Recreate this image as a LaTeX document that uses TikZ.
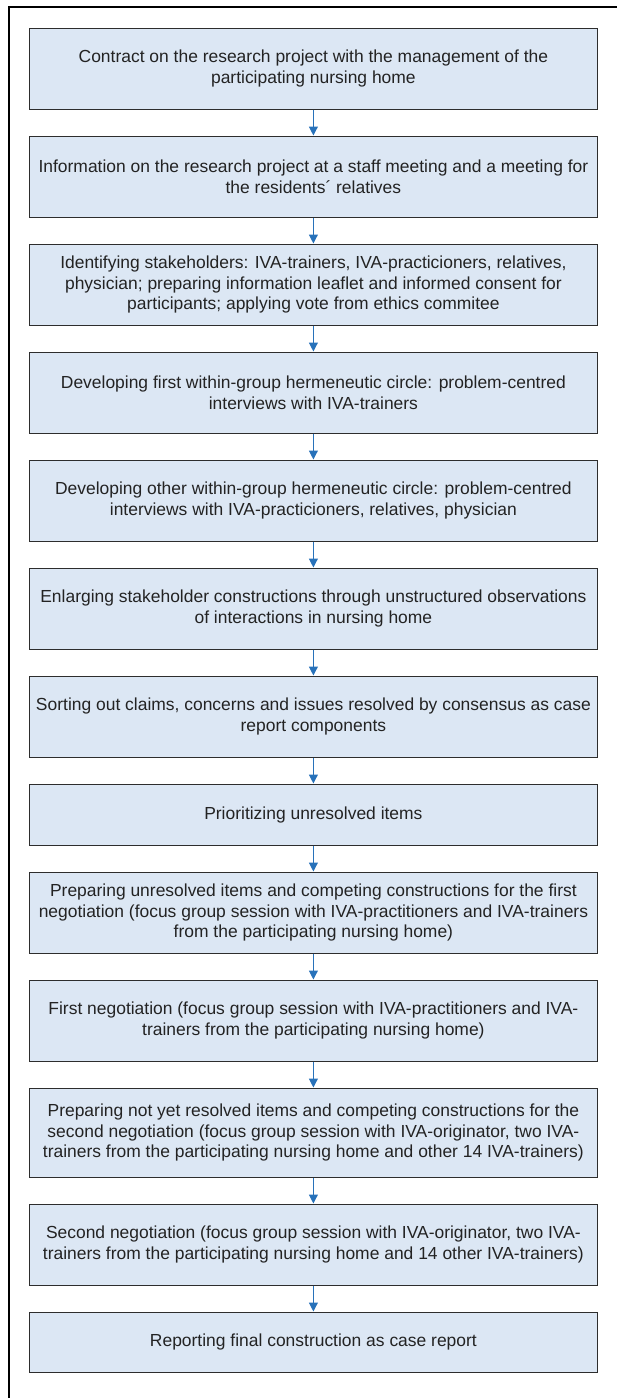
\documentclass[tikz,border=0pt]{standalone}
\usepackage{fontspec}
\setmainfont{Liberation Sans}
\usetikzlibrary{arrows.meta}
\definecolor{boxfill}{RGB}{220,231,244}
\definecolor{boxline}{RGB}{45,45,45}
\definecolor{txt}{RGB}{35,35,35}
\definecolor{arrowblue}{RGB}{40,114,186}
\begin{document}
\begin{tikzpicture}[x=1pt,y=-1pt,
  box/.style={draw=boxline, fill=boxfill, line width=1pt, minimum width=568pt,
    align=center, inner sep=0pt, text=txt,
    font=\fontsize{17.45}{20.8}\selectfont},
  flow/.style={draw=arrowblue, line width=1pt, -{Triangle[length=9pt,width=9pt]}}]
\useasboundingbox (0,0) rectangle (617,1398);
\draw[line width=2pt] (8.5,1398) -- (8.5,7) -- (617,7);

\node[box, minimum height=81pt] (b1) at (313.4,68.5)
  {Contract on the research project with the management of the\\participating nursing home};
\node[box, minimum height=81pt] (b2) at (313.4,176.5)
  {Information on the research project at a staff meeting and a meeting for\\the residents´ relatives};
\node[box, minimum height=81pt] (b3) at (313.4,284.5)
  {Identifying stakeholders: IVA-trainers, IVA-practicioners, relatives,\\physician; preparing information leaflet and informed consent for\\participants; applying vote from ethics commitee};
\node[box, minimum height=81pt] (b4) at (313.4,392.5)
  {Developing first within-group hermeneutic circle: problem-centred\\interviews with IVA-trainers};
\node[box, minimum height=81pt] (b5) at (313.4,500.5)
  {Developing other within-group hermeneutic circle: problem-centred\\interviews with IVA-practicioners, relatives, physician};
\node[box, minimum height=81pt] (b6) at (313.4,608.5)
  {Enlarging stakeholder constructions through unstructured observations\\of interactions in nursing home};
\node[box, minimum height=81pt] (b7) at (313.4,716.5)
  {Sorting out claims, concerns and issues resolved by consensus as case\\report components};
\node[box, minimum height=61pt] (b8) at (313.4,814.5)
  {Prioritizing unresolved items};
\node[box, minimum height=81pt] (b9) at (313.4,912.5)
  {Preparing unresolved items and competing constructions for the first\\negotiation (focus group session with IVA-practitioners and IVA-trainers\\from the participating nursing home)};
\node[box, minimum height=81pt] (b10) at (313.4,1020.5)
  {First negotiation (focus group session with IVA-practitioners and IVA-\\trainers from the participating nursing home)};
\node[box, minimum height=89pt] (b11) at (313.4,1132.5)
  {Preparing not yet resolved items and competing constructions for the\\second negotiation (focus group session with IVA-originator, two IVA-\\trainers from the participating nursing home and other 14 IVA-trainers)};
\node[box, minimum height=81pt] (b12) at (313.4,1244.5)
  {Second negotiation (focus group session with IVA-originator, two IVA-\\trainers from the participating nursing home and 14 other IVA-trainers)};
\node[box, minimum height=60pt] (b13) at (313.4,1342)
  {Reporting final construction as case report};

\foreach \a/\b in {b1/b2,b2/b3,b3/b4,b4/b5,b5/b6,b6/b7,b7/b8,b8/b9,b9/b10,b10/b11,b11/b12,b12/b13}
  \draw[flow] (\a) -- (\b);
\end{tikzpicture}
\end{document}
